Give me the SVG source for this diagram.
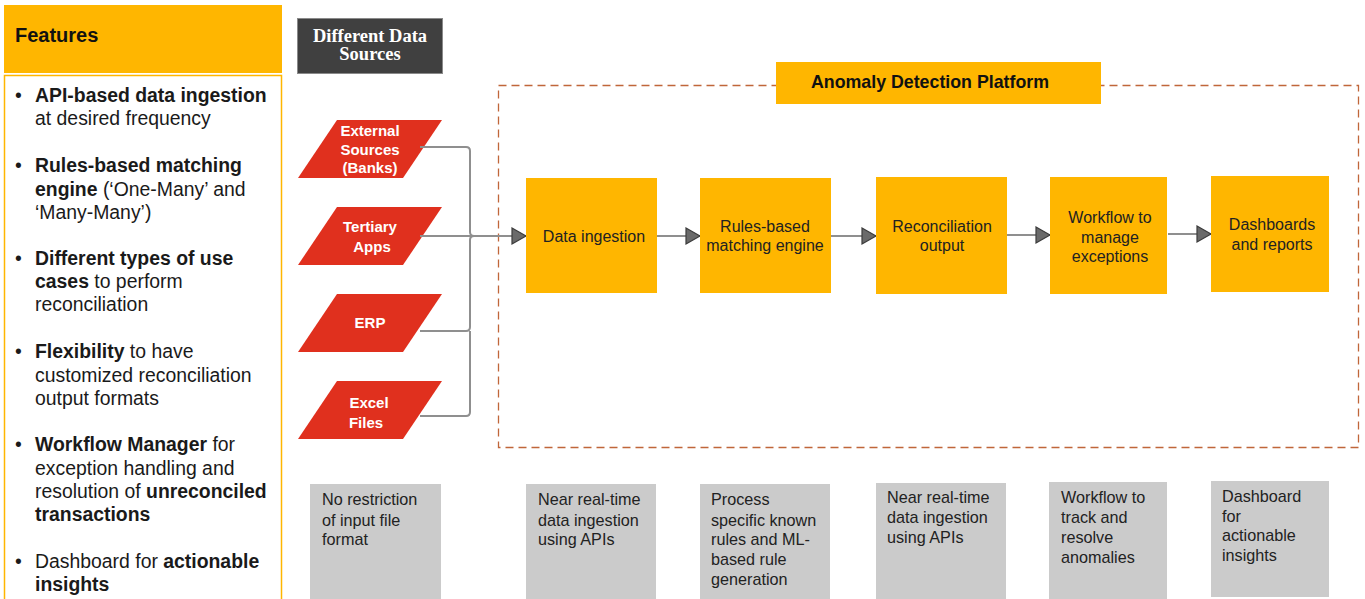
<svg xmlns="http://www.w3.org/2000/svg" width="1365" height="599" viewBox="0 0 1365 599">
<defs>
<style>
.ft{font-family:"Liberation Sans",Arial,sans-serif;fill:#1a1a1a;font-size:19.4px}
.b{font-weight:bold}
.src{fill:#E0301E}
.srct{font-family:"Liberation Sans",Arial,sans-serif;font-weight:bold;font-size:15px;fill:#fff;text-anchor:middle}
.proc{fill:#FFB600}
.pt{font-family:"Liberation Sans",Arial,sans-serif;font-size:16px;fill:#222;text-anchor:middle}
.note{fill:#CBCBCB}
.nt{font-family:"Liberation Sans",Arial,sans-serif;font-size:16.2px;fill:#222}
.conn{fill:none;stroke:#8f8f8f;stroke-width:2}
.ds{font-family:"Liberation Serif","Times New Roman",serif;font-weight:bold;font-size:18.5px;fill:#fff;text-anchor:middle}
</style>
<marker id="arr" markerUnits="userSpaceOnUse" markerWidth="18" markerHeight="20" refX="15" refY="9" orient="auto">
<path d="M1,1 L15,9 L1,17 Z" fill="#6a6a6a" stroke="#3c3c3c" stroke-width="1.2"/>
</marker>
</defs>
<rect width="1365" height="599" fill="#fff"/>

<g id="features">
<rect x="4" y="5" width="278" height="68" fill="#FFB600"/>
<text x="15" y="42" font-family="Liberation Sans,Arial,sans-serif" font-weight="bold" font-size="20" fill="#111">Features</text>
<rect x="4.5" y="75.5" width="277" height="530" fill="#fff" stroke="#FFB600" stroke-width="1.5"/>
<g class="ft">
<text x="15" y="102">•</text>
<text x="35" y="102" class="b">API-based data ingestion</text>
<text x="35" y="125">at desired frequency</text>
<text x="15" y="172">•</text>
<text x="35" y="172" class="b">Rules-based matching</text>
<text x="35" y="196"><tspan class="b">engine</tspan> (‘One-Many’ and</text>
<text x="35" y="219">‘Many-Many’)</text>
<text x="15" y="265">•</text>
<text x="35" y="265" class="b">Different types of use</text>
<text x="35" y="288"><tspan class="b">cases</tspan> to perform</text>
<text x="35" y="311">reconciliation</text>
<text x="15" y="358">•</text>
<text x="35" y="358"><tspan class="b">Flexibility</tspan> to have</text>
<text x="35" y="382">customized reconciliation</text>
<text x="35" y="405">output formats</text>
<text x="15" y="451">•</text>
<text x="35" y="451"><tspan class="b">Workflow Manager</tspan> for</text>
<text x="35" y="475">exception handling and</text>
<text x="35" y="498">resolution of <tspan class="b">unreconciled</tspan></text>
<text x="35" y="521" class="b">transactions</text>
<text x="15" y="568">•</text>
<text x="35" y="568">Dashboard for <tspan class="b">actionable</tspan></text>
<text x="35" y="591" class="b">insights</text>
</g>
</g>

<g id="sources-header">
<rect x="297.5" y="18.5" width="145" height="55" fill="#404040" stroke="#8a8a8a" stroke-width="1"/>
<text class="ds" x="370" y="42">Different Data</text>
<text class="ds" x="370" y="60">Sources</text>
</g>

<g id="src-external">
<polygon class="src" points="337,120 442,120 403,178 298,178"/>
<text class="srct" x="370" y="136">External</text>
<text class="srct" x="370" y="155">Sources</text>
<text class="srct" x="370" y="173">(Banks)</text>
</g>
<g id="src-tertiary">
<polygon class="src" points="337,207 442,207 403,265 298,265"/>
<text class="srct" x="370" y="232">Tertiary</text>
<text class="srct" x="372" y="252">Apps</text>
</g>
<g id="src-erp">
<polygon class="src" points="337,294 442,294 403,352 298,352"/>
<text class="srct" x="370" y="328">ERP</text>
</g>
<g id="src-excel">
<polygon class="src" points="337,381 442,381 403,439 298,439"/>
<text class="srct" x="369" y="408">Excel</text>
<text class="srct" x="366" y="428">Files</text>
</g>

<g id="platform">
<rect x="498.5" y="85.5" width="860" height="362" fill="none" stroke="#C0663A" stroke-width="1.3" stroke-dasharray="8,5"/>
<rect x="776" y="62" width="325" height="42" fill="#FFB600"/>
<text x="930" y="88" font-family="Liberation Sans,Arial,sans-serif" font-weight="bold" font-size="17.8" fill="#111" text-anchor="middle">Anomaly Detection Platform</text>
</g>

<g id="connectors">
<path class="conn" d="M420,147 H466 Q470,147 470,151 V232 Q470,236 474,236"/>
<path class="conn" d="M420,331 H466 Q470,331 470,327 V240 Q470,236 474,236"/>
<path class="conn" d="M420,416 H466 Q470,416 470,412 V331"/>
<path class="conn" d="M420,236 H526" marker-end="url(#arr)"/>
<path class="conn" d="M657,236 H700" marker-end="url(#arr)"/>
<path class="conn" d="M831,236 H876" marker-end="url(#arr)"/>
<path class="conn" d="M1007,235 H1050" marker-end="url(#arr)"/>
<path class="conn" d="M1168,234 H1211" marker-end="url(#arr)"/>
</g>

<g id="p-ingestion">
<rect class="proc" x="526" y="178" width="131" height="115"/>
<text class="pt" x="594" y="242">Data ingestion</text>
</g>
<g id="p-rules">
<rect class="proc" x="700" y="178" width="131" height="115"/>
<text class="pt" x="765" y="232">Rules-based</text>
<text class="pt" x="765" y="251">matching engine</text>
</g>
<g id="p-recon">
<rect class="proc" x="876" y="177" width="131" height="117"/>
<text class="pt" x="942" y="232">Reconciliation</text>
<text class="pt" x="942" y="251">output</text>
</g>
<g id="p-workflow">
<rect class="proc" x="1050" y="177" width="117" height="117"/>
<text class="pt" x="1110" y="223">Workflow to</text>
<text class="pt" x="1110" y="243">manage</text>
<text class="pt" x="1110" y="262">exceptions</text>
</g>
<g id="p-dashboards">
<rect class="proc" x="1211" y="176" width="118" height="116"/>
<text class="pt" x="1272" y="230">Dashboards</text>
<text class="pt" x="1272" y="250">and reports</text>
</g>

<g id="n-sources">
<rect class="note" x="310" y="484" width="131" height="120"/>
<text class="nt" x="322" y="505">No restriction</text>
<text class="nt" x="322" y="526">of input file</text>
<text class="nt" x="322" y="545">format</text>
</g>
<g id="n-ingestion">
<rect class="note" x="526" y="484" width="130" height="120"/>
<text class="nt" x="538" y="505">Near real-time</text>
<text class="nt" x="538" y="526">data ingestion</text>
<text class="nt" x="538" y="545">using APIs</text>
</g>
<g id="n-rules">
<rect class="note" x="700" y="484" width="130" height="120"/>
<text class="nt" x="711" y="505">Process</text>
<text class="nt" x="711" y="526">specific known</text>
<text class="nt" x="711" y="545">rules and ML-</text>
<text class="nt" x="711" y="565">based rule</text>
<text class="nt" x="711" y="585">generation</text>
</g>
<g id="n-recon">
<rect class="note" x="876" y="483" width="130" height="121"/>
<text class="nt" x="887" y="503">Near real-time</text>
<text class="nt" x="887" y="523">data ingestion</text>
<text class="nt" x="887" y="543">using APIs</text>
</g>
<g id="n-workflow">
<rect class="note" x="1049" y="482" width="118" height="122"/>
<text class="nt" x="1061" y="503">Workflow to</text>
<text class="nt" x="1061" y="523">track and</text>
<text class="nt" x="1061" y="543">resolve</text>
<text class="nt" x="1061" y="563">anomalies</text>
</g>
<g id="n-dashboards">
<rect class="note" x="1211" y="481" width="118" height="116"/>
<text class="nt" x="1222" y="502">Dashboard</text>
<text class="nt" x="1222" y="522">for</text>
<text class="nt" x="1222" y="541">actionable</text>
<text class="nt" x="1222" y="561">insights</text>
</g>
</svg>
